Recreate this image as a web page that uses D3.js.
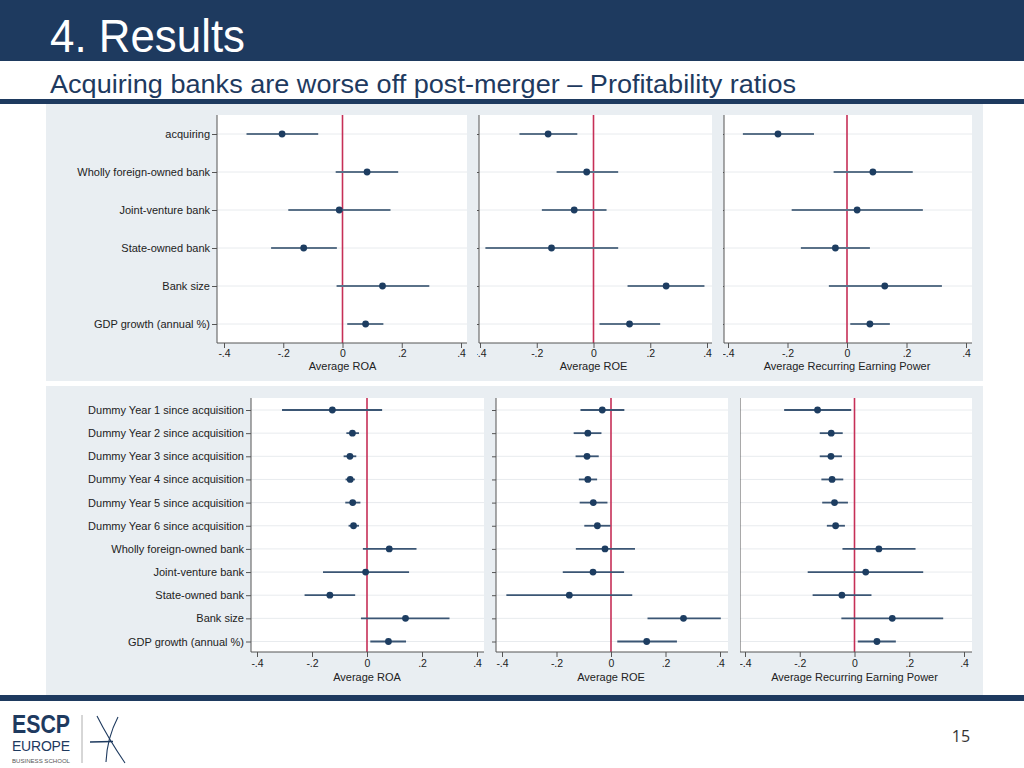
<!DOCTYPE html>
<html><head><meta charset="utf-8">
<script src="https://cdn.jsdelivr.net/npm/d3@7"></script>
<style>body{margin:0;background:#fff}svg{display:block;font-family:"Liberation Sans",Arial,sans-serif}</style>
</head><body><svg id="c" width="1024" height="768"></svg>
<script>
// ---------- data ----------
const tickValues = [-0.4, -0.2, 0, 0.2, 0.4];
const tickLabels = ["-.4", "-.2", "0", ".2", ".4"];
const axisTitles = ["Average ROA", "Average ROE", "Average Recurring Earning Power"];

const topCategories = ["acquiring", "Wholly foreign-owned bank", "Joint-venture bank",
  "State-owned bank", "Bank size", "GDP growth (annual %)"];
const bottomCategories = ["Dummy Year 1 since acquisition", "Dummy Year 2 since acquisition",
  "Dummy Year 3 since acquisition", "Dummy Year 4 since acquisition",
  "Dummy Year 5 since acquisition", "Dummy Year 6 since acquisition",
  "Wholly foreign-owned bank", "Joint-venture bank", "State-owned bank",
  "Bank size", "GDP growth (annual %)"];

// [estimate, lower CI, upper CI]
const topROA = [[-0.204,-0.324,-0.082],[0.083,-0.023,0.188],[-0.011,-0.183,0.162],
  [-0.131,-0.241,-0.019],[0.135,-0.020,0.293],[0.078,0.016,0.138]];
const topROE = [[-0.160,-0.261,-0.057],[-0.024,-0.130,0.087],[-0.068,-0.182,0.046],
  [-0.148,-0.381,0.087],[0.256,0.120,0.391],[0.127,0.021,0.235]];
const topREP = [[-0.232,-0.350,-0.111],[0.087,-0.045,0.221],[0.034,-0.186,0.255],
  [-0.039,-0.155,0.077],[0.127,-0.061,0.319],[0.077,0.011,0.144]];

const bottomROA = [[-0.126,-0.309,0.055],[-0.053,-0.075,-0.029],[-0.062,-0.085,-0.039],
  [-0.061,-0.078,-0.044],[-0.052,-0.079,-0.024],[-0.049,-0.067,-0.029],
  [0.081,-0.015,0.180],[-0.005,-0.160,0.153],[-0.135,-0.227,-0.043],
  [0.140,-0.022,0.300],[0.078,0.012,0.142]];
const bottomROE = [[-0.032,-0.112,0.049],[-0.085,-0.137,-0.035],[-0.088,-0.130,-0.045],
  [-0.085,-0.118,-0.051],[-0.065,-0.115,-0.013],[-0.050,-0.098,-0.002],
  [-0.022,-0.129,0.088],[-0.066,-0.177,0.048],[-0.153,-0.384,0.078],
  [0.266,0.134,0.403],[0.131,0.023,0.242]];
const bottomREP = [[-0.135,-0.257,-0.012],[-0.085,-0.127,-0.043],[-0.086,-0.127,-0.046],
  [-0.082,-0.121,-0.041],[-0.073,-0.118,-0.024],[-0.069,-0.101,-0.035],
  [0.089,-0.044,0.223],[0.041,-0.171,0.251],[-0.046,-0.153,0.062],
  [0.138,-0.048,0.324],[0.082,0.012,0.151]];

// ---------- drawing ----------
const navy = "#1e3a5f";
const svg = d3.select("#c");

// header
svg.append("rect").attr("x",0).attr("y",0).attr("width",1024).attr("height",61).attr("fill",navy);
svg.append("text").attr("x",50).attr("y",52).attr("fill","#fff").attr("font-size",47)
  .attr("textLength",195).attr("lengthAdjust","spacingAndGlyphs").text("4. Results");
svg.append("text").attr("x",50).attr("y",93).attr("fill",navy).attr("font-size",26)
  .attr("textLength",746).attr("lengthAdjust","spacingAndGlyphs")
  .text("Acquiring banks are worse off post-merger \u2013 Profitability ratios");
svg.append("rect").attr("x",0).attr("y",99).attr("width",1024).attr("height",5).attr("fill",navy);

// panels background
const panelBg = "#e9eef2";
svg.append("rect").attr("x",46).attr("y",104).attr("width",937).attr("height",277).attr("fill",panelBg);
svg.append("rect").attr("x",46).attr("y",386).attr("width",937).attr("height",309).attr("fill",panelBg);
svg.append("rect").attr("x",0).attr("y",695).attr("width",1024).attr("height",6).attr("fill",navy);

const defs = svg.append("defs");

function drawPlot(cfg, idx) {
  const clipId = "clip" + idx;
  defs.append("clipPath").attr("id", clipId).append("rect")
    .attr("x", cfg.clip[0]).attr("y", cfg.top - 20).attr("width", cfg.clip[1] - cfg.clip[0])
    .attr("height", cfg.bottom - cfg.top + 60);
  const g = svg.append("g").attr("clip-path", `url(#${clipId})`);
  const x = d3.scaleLinear().domain([-0.4, 0.4]).range([cfg.xa, cfg.xb]);
  const y = d3.scalePoint().domain(cfg.categories).range([cfg.top + cfg.padT, cfg.bottom - cfg.padB]);

  g.append("rect").attr("x", cfg.left).attr("y", cfg.top)
    .attr("width", cfg.right - cfg.left).attr("height", cfg.bottom - cfg.top).attr("fill", "#fff");

  g.selectAll(".grid").data(cfg.categories).join("line")
    .attr("x1", cfg.left).attr("x2", cfg.right)
    .attr("y1", d => y(d)).attr("y2", d => y(d))
    .attr("stroke", "#e8ebee").attr("stroke-width", 1);

  g.append("line").attr("x1", x(0)).attr("x2", x(0)).attr("y1", cfg.top).attr("y2", cfg.bottom)
    .attr("stroke", "#c62f57").attr("stroke-width", 1.6);

  g.selectAll(".ci").data(cfg.data).join("line")
    .attr("x1", d => x(d[1])).attr("x2", d => x(d[2]))
    .attr("y1", (d, i) => y(cfg.categories[i])).attr("y2", (d, i) => y(cfg.categories[i]))
    .attr("stroke", cfg.ciColor).attr("stroke-width", 1.8);

  g.selectAll(".pt").data(cfg.data).join("circle")
    .attr("cx", d => x(d[0])).attr("cy", (d, i) => y(cfg.categories[i]))
    .attr("r", 3.4).attr("fill", "#1d3d61");

  // y axis
  const ya = g.append("g").attr("transform", `translate(${cfg.left},0)`)
    .call(d3.axisLeft(y).tickSize(5).tickSizeOuter(0).tickPadding(2)
      .tickFormat(d => cfg.showLabels ? d : ""));
  ya.select(".domain").remove();
  ya.selectAll("text").attr("font-size", 11).attr("fill", "#222").attr("font-family", "Liberation Sans, Arial, sans-serif");
  ya.selectAll("line").attr("stroke", "#555");
  g.append("line").attr("x1", cfg.left).attr("x2", cfg.left).attr("y1", cfg.top).attr("y2", cfg.bottom)
    .attr("stroke", "#555").attr("stroke-width", 1);

  // x axis
  const xa = g.append("g").attr("transform", `translate(0,${cfg.bottom})`)
    .call(d3.axisBottom(x).tickValues(tickValues).tickFormat((d, i) => tickLabels[i])
      .tickSize(5).tickSizeOuter(0).tickPadding(cfg.tickPad));
  xa.select(".domain").remove();
  xa.selectAll("text").attr("font-size", 10.5).attr("fill", "#222").attr("font-family", "Liberation Sans, Arial, sans-serif");
  xa.selectAll("line").attr("stroke", "#555");
  g.append("line").attr("x1", cfg.left).attr("x2", cfg.right).attr("y1", cfg.bottom).attr("y2", cfg.bottom)
    .attr("stroke", "#555").attr("stroke-width", 1);

  g.append("text").attr("x", x(0)).attr("y", cfg.bottom + cfg.titleOff)
    .attr("text-anchor", "middle").attr("font-size", 11).attr("fill", "#222").text(cfg.title);
}

const topCommon = { top: 115, bottom: 343, padT: 19, padB: 19, categories: topCategories,
  ciColor: "#5a7188", tickPad: 2, titleOff: 27 };
const botCommon = { top: 398, bottom: 652, padT: 12, padB: 10.5, categories: bottomCategories,
  ciColor: "#3b5674", tickPad: 3, titleOff: 29 };

const plots = [
  Object.assign({}, topCommon, { left: 217, right: 467, xa: 224, xb: 461, data: topROA, title: axisTitles[0], showLabels: true, clip: [46, 473] }),
  Object.assign({}, topCommon, { left: 479, right: 712, xa: 480, xb: 707, data: topROE, title: axisTitles[1], showLabels: false, clip: [477, 718] }),
  Object.assign({}, topCommon, { left: 724, right: 972, xa: 728, xb: 966, data: topREP, title: axisTitles[2], showLabels: false, clip: [723, 983] }),
  Object.assign({}, botCommon, { left: 251, right: 484, xa: 257, xb: 477, data: bottomROA, title: axisTitles[0], showLabels: true, clip: [46, 489] }),
  Object.assign({}, botCommon, { left: 496, right: 728, xa: 502, xb: 720, data: bottomROE, title: axisTitles[1], showLabels: false, clip: [492, 735] }),
  Object.assign({}, botCommon, { left: 740, right: 972, xa: 745, xb: 964, data: bottomREP, title: axisTitles[2], showLabels: false, clip: [740, 983] })
];
plots.forEach(drawPlot);

// footer logo
const logo = svg.append("g");
logo.append("text").attr("x", 12).attr("y", 733).attr("font-size", 26).attr("font-weight", "bold")
  .attr("fill", navy).attr("textLength", 58).attr("lengthAdjust", "spacingAndGlyphs").text("ESCP");
logo.append("text").attr("x", 12).attr("y", 751).attr("font-size", 14)
  .attr("fill", navy).attr("textLength", 58).attr("lengthAdjust", "spacing").text("EUROPE");
logo.append("text").attr("x", 12).attr("y", 763).attr("font-size", 6)
  .attr("fill", "#555").attr("textLength", 58).attr("lengthAdjust", "spacingAndGlyphs").text("BUSINESS SCHOOL");
logo.append("line").attr("x1", 82).attr("x2", 82).attr("y1", 715).attr("y2", 763).attr("stroke", "#999").attr("stroke-width", 0.8);
logo.append("path").attr("d", "M97,716 Q108,738 125,763").attr("fill", "none").attr("stroke", navy).attr("stroke-width", 1.1);
logo.append("path").attr("d", "M118,717 Q107,738 106,762").attr("fill", "none").attr("stroke", navy).attr("stroke-width", 1.1);
logo.append("path").attr("d", "M90,742 L113,741.5").attr("fill", "none").attr("stroke", navy).attr("stroke-width", 1.6);

svg.append("text").attr("x", 961).attr("y", 742).attr("text-anchor", "middle").attr("font-size", 16)
  .attr("fill", "#333").attr("font-family", "Open Sans, sans-serif").text("15");
</script></body></html>
